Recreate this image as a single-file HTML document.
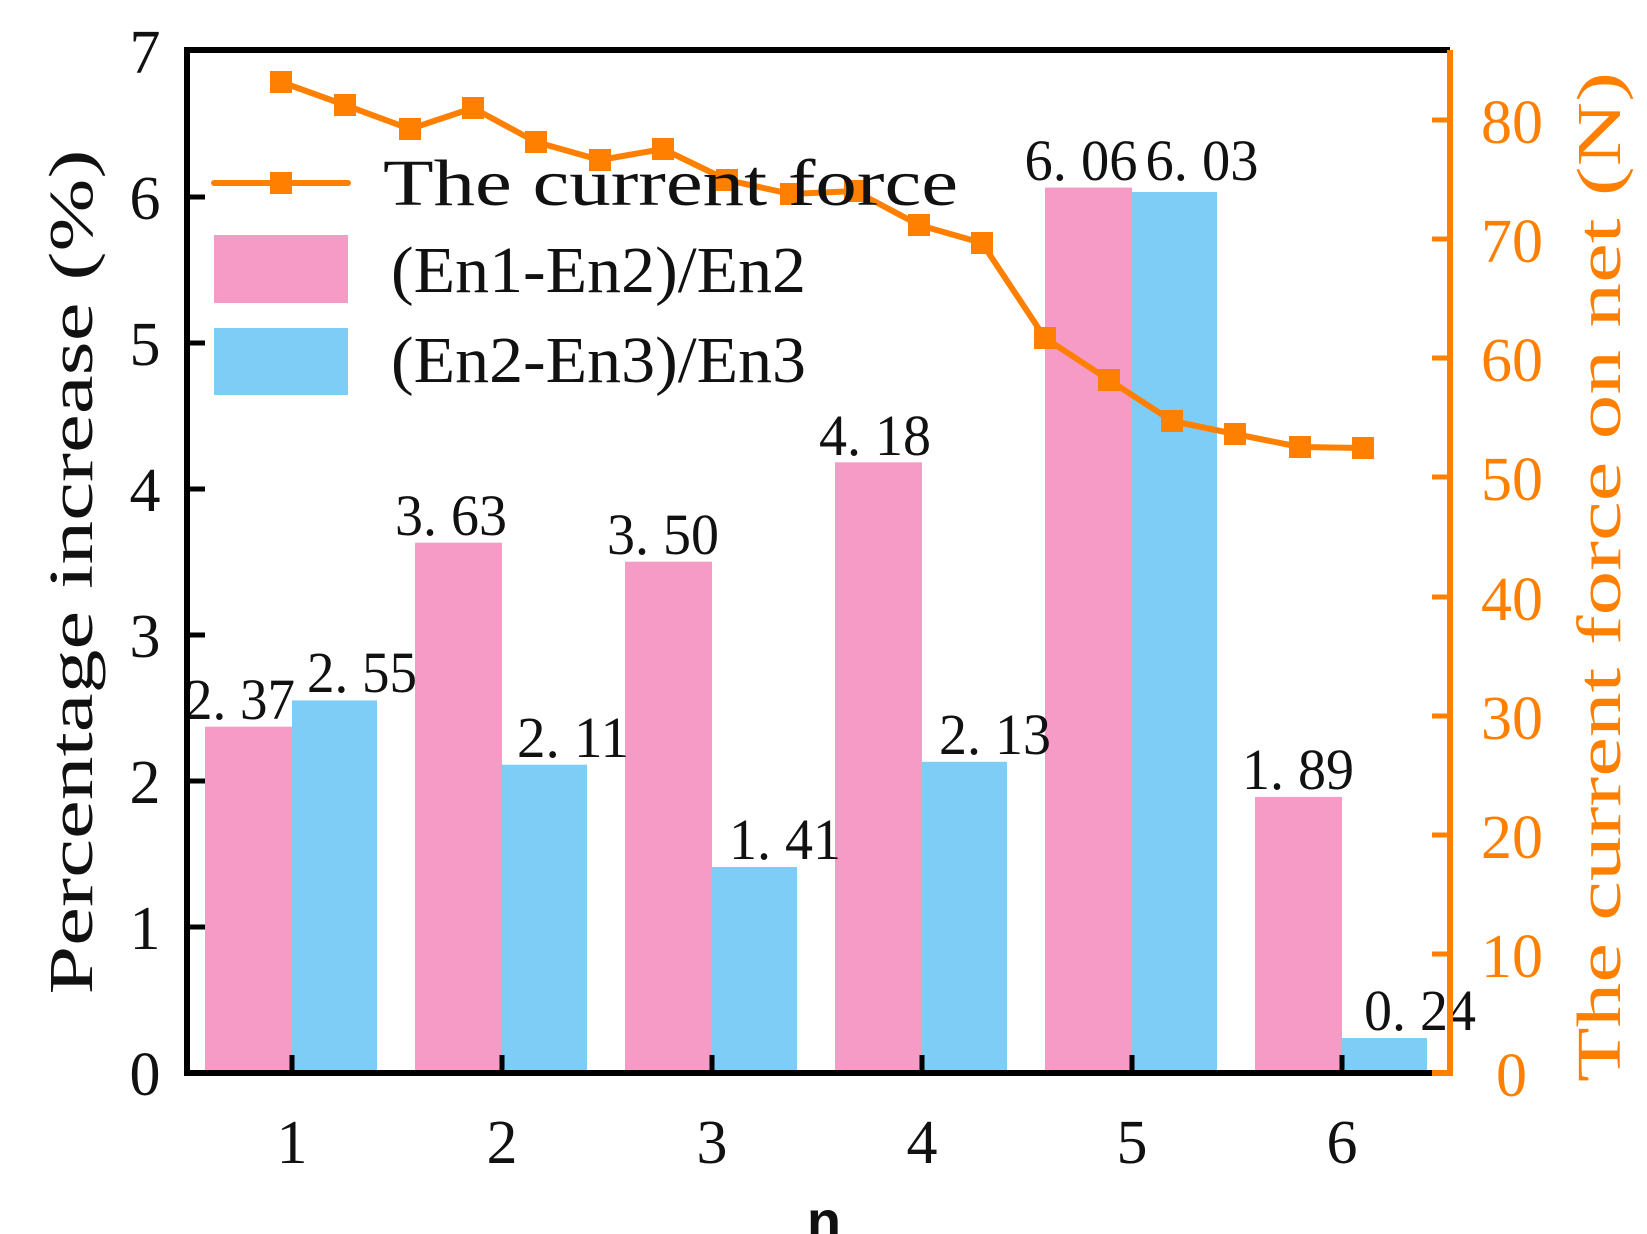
<!DOCTYPE html>
<html><head><meta charset="utf-8"><style>html,body{margin:0;padding:0;background:#fff}svg{display:block}svg text{font-family:"Liberation Serif","DejaVu Serif",serif}svg text.sans{font-family:"Liberation Sans",sans-serif}</style></head>
<body>
<svg width="1647" height="1234" viewBox="0 0 1647 1234" xmlns="http://www.w3.org/2000/svg">
<rect width="1647" height="1234" fill="#fff"/>
<g>
<rect x="205" y="726.7" width="87" height="346.3" fill="#f59bc5"/>
<rect x="292" y="700.4" width="85" height="372.6" fill="#7dcdf6"/>
<rect x="415" y="542.7" width="87" height="530.3" fill="#f59bc5"/>
<rect x="502" y="764.7" width="85" height="308.3" fill="#7dcdf6"/>
<rect x="625" y="561.7" width="87" height="511.3" fill="#f59bc5"/>
<rect x="712" y="867" width="85" height="206" fill="#7dcdf6"/>
<rect x="835" y="462.3" width="87" height="610.7" fill="#f59bc5"/>
<rect x="922" y="761.8" width="85" height="311.2" fill="#7dcdf6"/>
<rect x="1045" y="187.6" width="87" height="885.4" fill="#f59bc5"/>
<rect x="1132" y="192" width="85" height="881" fill="#7dcdf6"/>
<rect x="1255" y="796.9" width="87" height="276.1" fill="#f59bc5"/>
<rect x="1342" y="1038" width="85" height="35" fill="#7dcdf6"/>
</g>
<g font-size="58" fill="#111" text-anchor="middle">
<text x="240" y="719" textLength="110" lengthAdjust="spacingAndGlyphs">2. 37</text>
<text x="362" y="692" textLength="110" lengthAdjust="spacingAndGlyphs">2. 55</text>
<text x="451" y="535" textLength="112" lengthAdjust="spacingAndGlyphs">3. 63</text>
<text x="573" y="757" textLength="112" lengthAdjust="spacingAndGlyphs">2. 11</text>
<text x="663" y="554" textLength="112" lengthAdjust="spacingAndGlyphs">3. 50</text>
<text x="785" y="859" textLength="112" lengthAdjust="spacingAndGlyphs">1. 41</text>
<text x="875" y="455" textLength="112" lengthAdjust="spacingAndGlyphs">4. 18</text>
<text x="995" y="754" textLength="112" lengthAdjust="spacingAndGlyphs">2. 13</text>
<text x="1081" y="180" textLength="113" lengthAdjust="spacingAndGlyphs">6. 06</text>
<text x="1202" y="180" textLength="113" lengthAdjust="spacingAndGlyphs">6. 03</text>
<text x="1298" y="789" textLength="112" lengthAdjust="spacingAndGlyphs">1. 89</text>
<text x="1420" y="1030" textLength="112" lengthAdjust="spacingAndGlyphs">0. 24</text>
</g>
<g stroke="#000" stroke-width="6" fill="none">
<polyline points="187,1073 187,50 1450,50"/>
<line x1="184" y1="1073" x2="1432" y2="1073"/>
</g>
<g stroke="#000" stroke-width="5">
<line x1="187" y1="927" x2="205" y2="927"/>
<line x1="187" y1="781" x2="205" y2="781"/>
<line x1="187" y1="635" x2="205" y2="635"/>
<line x1="187" y1="489" x2="205" y2="489"/>
<line x1="187" y1="343" x2="205" y2="343"/>
<line x1="187" y1="197" x2="205" y2="197"/>
<line x1="292" y1="1073" x2="292" y2="1055"/>
<line x1="502" y1="1073" x2="502" y2="1055"/>
<line x1="712" y1="1073" x2="712" y2="1055"/>
<line x1="922" y1="1073" x2="922" y2="1055"/>
<line x1="1132" y1="1073" x2="1132" y2="1055"/>
<line x1="1342" y1="1073" x2="1342" y2="1055"/>
</g>
<g stroke="#ff8000" stroke-width="6" fill="none">
<polyline points="1450,50 1450,1073 1432,1073"/>
</g>
<g stroke="#ff8000" stroke-width="5">
<line x1="1432" y1="954" x2="1450" y2="954"/>
<line x1="1432" y1="835" x2="1450" y2="835"/>
<line x1="1432" y1="716" x2="1450" y2="716"/>
<line x1="1432" y1="597" x2="1450" y2="597"/>
<line x1="1432" y1="477" x2="1450" y2="477"/>
<line x1="1432" y1="358" x2="1450" y2="358"/>
<line x1="1432" y1="239" x2="1450" y2="239"/>
<line x1="1432" y1="120" x2="1450" y2="120"/>
</g>
<g font-size="62" fill="#111" text-anchor="middle">
<text x="145" y="1095">0</text>
<text x="145" y="949">1</text>
<text x="145" y="803">2</text>
<text x="145" y="657">3</text>
<text x="145" y="511">4</text>
<text x="145" y="365">5</text>
<text x="145" y="219">6</text>
<text x="145" y="73">7</text>
</g>
<g font-size="62" fill="#111" text-anchor="middle">
<text x="292" y="1163">1</text>
<text x="502" y="1163">2</text>
<text x="712" y="1163">3</text>
<text x="922" y="1163">4</text>
<text x="1132" y="1163">5</text>
<text x="1342" y="1163">6</text>
</g>
<text class="sans" x="824" y="1240" font-weight="bold" font-size="56" text-anchor="middle" fill="#111">n</text>
<g font-size="62" fill="#ff8000">
<text x="1496" y="1096">0</text>
<text x="1481" y="977">10</text>
<text x="1481" y="858">20</text>
<text x="1481" y="739">30</text>
<text x="1481" y="620">40</text>
<text x="1481" y="500">50</text>
<text x="1481" y="381">60</text>
<text x="1481" y="262">70</text>
<text x="1481" y="143">80</text>
</g>
<text transform="translate(92,572) rotate(-90)" font-size="62" text-anchor="middle" fill="#111" textLength="845" lengthAdjust="spacingAndGlyphs">Percentage increase (%)</text>
<text transform="translate(1620,577) rotate(-90)" font-size="62" text-anchor="middle" fill="#ff8000" textLength="1010" lengthAdjust="spacingAndGlyphs">The current force on net (N)</text>
<polyline fill="none" stroke="#ff8000" stroke-width="6" stroke-linejoin="round" points="281,82 345,105 410,129 473,108 536,142 600,160 663,149 727,180 791,194 855,191 919,225 982,243 1045,338 1109,380 1172,421 1235,434 1300,447 1363,448"/>
<g fill="#ff8000">
<rect x="270" y="71" width="22" height="22"/><rect x="334" y="94" width="22" height="22"/><rect x="399" y="118" width="22" height="22"/><rect x="462" y="97" width="22" height="22"/><rect x="525" y="131" width="22" height="22"/><rect x="589" y="149" width="22" height="22"/><rect x="652" y="138" width="22" height="22"/><rect x="716" y="169" width="22" height="22"/><rect x="780" y="183" width="22" height="22"/><rect x="844" y="180" width="22" height="22"/><rect x="908" y="214" width="22" height="22"/><rect x="971" y="232" width="22" height="22"/><rect x="1034" y="327" width="22" height="22"/><rect x="1098" y="369" width="22" height="22"/><rect x="1161" y="410" width="22" height="22"/><rect x="1224" y="423" width="22" height="22"/><rect x="1289" y="436" width="22" height="22"/><rect x="1352" y="437" width="22" height="22"/>
</g>
<line x1="214" y1="183" x2="348" y2="183" stroke="#ff8000" stroke-width="6" stroke-linecap="round"/>
<rect x="270" y="172" width="22" height="22" fill="#ff8000"/>
<rect x="214" y="235" width="134" height="68" fill="#f59bc5"/>
<rect x="214" y="328" width="134" height="67" fill="#7dcdf6"/>
<g font-size="66" fill="#111">
<text x="383" y="205" textLength="575" lengthAdjust="spacingAndGlyphs">The current force</text>
<text x="391" y="292" textLength="415" lengthAdjust="spacingAndGlyphs">(En1-En2)/En2</text>
<text x="391" y="382" textLength="415" lengthAdjust="spacingAndGlyphs">(En2-En3)/En3</text>
</g>
</svg>
</body></html>
